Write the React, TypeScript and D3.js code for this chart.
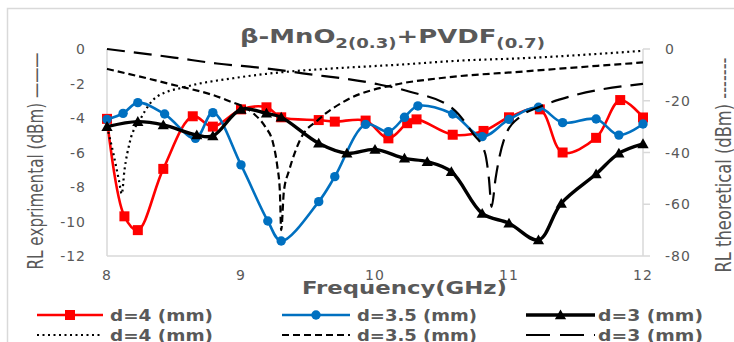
import React from "react";
import * as d3 from "d3";

const W = 734;
const H = 342;

// Experimental reflection loss (left axis, dBm)
const expFreqD4 = [8.0, 8.13, 8.23, 8.42, 8.64, 8.79, 9.0, 9.19, 9.3, 9.58, 9.7, 9.93, 10.1, 10.24, 10.31, 10.58, 10.81, 11.0, 11.23, 11.4, 11.65, 11.83, 12.0];
const expRlD4 = [-4.05, -9.7, -10.5, -6.95, -3.9, -4.5, -3.5, -3.38, -3.96, -4.12, -4.21, -4.15, -5.18, -4.3, -4.08, -4.97, -4.75, -3.96, -3.5, -6.0, -5.15, -2.96, -3.97];

const expFreqD35 = [8.0, 8.12, 8.23, 8.43, 8.66, 8.79, 9.0, 9.2, 9.3, 9.58, 9.7, 9.93, 10.1, 10.22, 10.32, 10.58, 10.8, 11.0, 11.22, 11.4, 11.65, 11.82, 12.0];
const expRlD35 = [-4.08, -3.73, -3.11, -3.77, -5.18, -3.69, -6.72, -9.97, -11.13, -8.85, -7.4, -4.37, -4.79, -3.96, -3.3, -3.77, -5.08, -4.08, -3.38, -4.27, -4.06, -4.99, -4.35];

const expFreqD3 = [8.0, 8.23, 8.42, 8.67, 8.79, 9.0, 9.19, 9.3, 9.58, 9.79, 10.0, 10.22, 10.39, 10.57, 10.8, 11.0, 11.22, 11.39, 11.65, 11.82, 12.0];
const expRlD3 = [-4.5, -4.21, -4.4, -4.99, -5.04, -3.5, -3.73, -3.96, -5.47, -6.05, -5.82, -6.34, -6.53, -7.11, -9.53, -10.1, -11.07, -8.95, -7.25, -6.05, -5.5];

// Theoretical reflection loss (right axis, dBm)
const thFreqD4 = [8.0, 8.05, 8.09, 8.11, 8.13, 8.17, 8.25, 8.37, 8.59, 8.94, 9.32, 9.69, 10.2, 10.63, 11.13, 11.6, 12.0];
const thRlD4 = [-30, -41, -51, -56, -47, -36, -27, -18.5, -14.6, -11.3, -8.9, -7.5, -6.0, -4.5, -3.5, -2.1, -0.7];

const thFreqD35 = [8.0, 8.45, 8.89, 9.09, 9.18, 9.24, 9.27, 9.29, 9.3, 9.32, 9.36, 9.44, 9.58, 9.79, 10.14, 10.48, 11.13, 12.0];
const thRlD35 = [-7.7, -13.3, -19.7, -24.8, -30, -36.5, -45, -55, -70, -55, -46.8, -35.2, -27.2, -19.7, -13.9, -11.3, -8.6, -5.2];

const thFreqD3 = [8.0, 8.5, 8.82, 9.19, 9.46, 9.99, 10.26, 10.58, 10.73, 10.82, 10.85, 10.87, 10.9, 10.92, 10.98, 11.09, 11.23, 11.48, 12.0];
const thRlD3 = [0, -3.3, -5.6, -7.5, -9.4, -13.3, -16.5, -23, -32.6, -40, -50, -61, -50, -44, -32.6, -25.9, -22.3, -18, -13.5];

const xTicks = [8, 9, 10, 11, 12];
const leftTicks = [0, -2, -4, -6, -8, -10, -12];
const rightTicks = [0, -20, -40, -60, -80];

const legendLabels = ["d=4 (mm)", "d=3.5 (mm)", "d=3 (mm)"];

const RED = "#FF0000";
const BLUE = "#0070C0";
const BLACK = "#000000";
const GRAY = "#595959";
const AXIS = "#D9D9D9";
const FONT = "DejaVu Sans, Verdana, sans-serif";

const plot = { left: 107, right: 643, top: 49, bottom: 256 };

const x = d3.scaleLinear().domain([8, 12]).range([plot.left, plot.right]);
const yL = d3.scaleLinear().domain([-12, 0]).range([plot.bottom, plot.top]);
const yR = d3.scaleLinear().domain([-80, 0]).range([plot.bottom, plot.top]);

const zip = (a: number[], b: number[]) => a.map((v, i) => [v, b[i]] as [number, number]);

const expLine = (ys: d3.ScaleLinear<number, number>) =>
  d3
    .line<[number, number]>()
    .x((d) => x(d[0]))
    .y((d) => ys(d[1]))
    .curve(d3.curveCatmullRom.alpha(0.5));

const thLine = d3
  .line<[number, number]>()
  .x((d) => x(d[0]))
  .y((d) => yR(d[1]))
  .curve(d3.curveMonotoneX);

const triangle = d3.symbol(d3.symbolTriangle, 55)() as string;

function Marker({ kind, cx, cy }: { kind: string; cx: number; cy: number }) {
  if (kind === "square")
    return <rect x={cx - 5} y={cy - 5} width={10} height={10} fill={RED} />;
  if (kind === "circle") return <circle cx={cx} cy={cy} r={4.7} fill={BLUE} />;
  return <path d={triangle} transform={`translate(${cx},${cy + 1})`} fill={BLACK} />;
}

const expSeries = [
  { data: zip(expFreqD4, expRlD4), color: RED, width: 2.6, marker: "square" },
  { data: zip(expFreqD35, expRlD35), color: BLUE, width: 2.6, marker: "circle" },
  { data: zip(expFreqD3, expRlD3), color: BLACK, width: 3.4, marker: "triangle" },
];

const thSeries = [
  { data: zip(thFreqD4, thRlD4), dash: "2,3.5" },
  { data: zip(thFreqD35, thRlD35), dash: "7,4" },
  { data: zip(thFreqD3, thRlD3), dash: "18,9" },
];

const legendCols = [
  { x0: 37, x1: 103, tx: 110, tw: 103 },
  { x0: 282, x1: 350, tx: 357, tw: 120 },
  { x0: 526, x1: 595, tx: 598, tw: 105 },
];
const legendDash = ["2,3.5", "7,4", "24,10"];

export default function App() {
  const lineL = expLine(yL);
  return (
    <svg
      width={W}
      height={H}
      style={{ position: "absolute", left: 0, top: 0, background: "#fff" }}
      fontFamily={FONT}
    >
      <rect x={7.5} y={8.5} width={W + 10} height={H + 10} fill="#fff" stroke={AXIS} strokeWidth={1.5} />

      {/* axes */}
      <line x1={plot.left} x2={plot.left} y1={plot.top} y2={plot.bottom} stroke={AXIS} strokeWidth={1.5} />
      <line x1={plot.right} x2={plot.right} y1={plot.top} y2={plot.bottom} stroke={AXIS} strokeWidth={1.5} />
      <line x1={plot.left} x2={plot.right} y1={plot.bottom} y2={plot.bottom} stroke={AXIS} strokeWidth={1.5} />
      {rightTicks.map((t) => (
        <line key={t} x1={plot.right} x2={plot.right + 7} y1={yR(t)} y2={yR(t)} stroke={AXIS} strokeWidth={1.5} />
      ))}

      {/* tick labels */}
      {leftTicks.map((t) => (
        <text key={t} x={86} y={yL(t) + 5} textAnchor="end" fontSize={14} fill={GRAY} letterSpacing={1}>
          {t}
        </text>
      ))}
      {rightTicks.map((t) => (
        <text key={t} x={665} y={yR(t) + 5} textAnchor="start" fontSize={14} fill={GRAY} letterSpacing={1}>
          {t}
        </text>
      ))}
      {xTicks.map((t) => (
        <text key={t} x={x(t)} y={280} textAnchor="middle" fontSize={14} fill={GRAY} letterSpacing={1}>
          {t}
        </text>
      ))}

      {/* experimental series */}
      {expSeries.map((s, i) => (
        <g key={i}>
          <path d={lineL(s.data) as string} fill="none" stroke={s.color} strokeWidth={s.width} />
          {s.data.map((d, j) => (
            <Marker key={j} kind={s.marker} cx={x(d[0])} cy={yL(d[1])} />
          ))}
        </g>
      ))}

      {/* theoretical series */}
      {thSeries.map((s, i) => (
        <path key={i} d={thLine(s.data) as string} fill="none" stroke={BLACK} strokeWidth={2.2} strokeDasharray={s.dash} />
      ))}

      {/* title */}
      <text x={240} y={43} fontSize={20} fontWeight="bold" fill={GRAY} textLength={305} lengthAdjust="spacingAndGlyphs">
        β-MnO
        <tspan fontSize={14} dy={5}>2(0.3)</tspan>
        <tspan fontSize={20} dy={-5}>+PVDF</tspan>
        <tspan fontSize={14} dy={5}>(0.7)</tspan>
      </text>

      {/* axis titles */}
      <text
        transform="translate(43,161) scale(1.2,1) rotate(-90)"
        textAnchor="middle"
        fontSize={18}
        fill={GRAY}
        textLength={217}
        lengthAdjust="spacingAndGlyphs"
      >
        RL exprimental (dBm) ———
      </text>
      <text
        transform="translate(731,165) scale(1.2,1) rotate(-90)"
        textAnchor="middle"
        fontSize={18}
        fill={GRAY}
        textLength={215}
        lengthAdjust="spacingAndGlyphs"
      >
        RL theoretical (dBm) -------
      </text>
      <text x={302} y={294} fontSize={18} fontWeight="bold" fill={GRAY} textLength={205} lengthAdjust="spacingAndGlyphs">
        Frequency(GHz)
      </text>

      {/* legend */}
      {legendCols.map((c, i) => (
        <g key={i}>
          <line x1={c.x0} x2={c.x1} y1={315} y2={315} stroke={expSeries[i].color} strokeWidth={expSeries[i].width} />
          <Marker kind={expSeries[i].marker} cx={(c.x0 + c.x1) / 2} cy={315} />
          <text x={c.tx} y={321} fontSize={16} fontWeight="bold" fill={GRAY} textLength={c.tw} lengthAdjust="spacingAndGlyphs">
            {legendLabels[i]}
          </text>
          <line x1={c.x0} x2={c.x1} y1={335} y2={335} stroke={BLACK} strokeWidth={2.2} strokeDasharray={legendDash[i]} />
          <text x={c.tx} y={341} fontSize={16} fontWeight="bold" fill={GRAY} textLength={c.tw} lengthAdjust="spacingAndGlyphs">
            {legendLabels[i]}
          </text>
        </g>
      ))}
    </svg>
  );
}
